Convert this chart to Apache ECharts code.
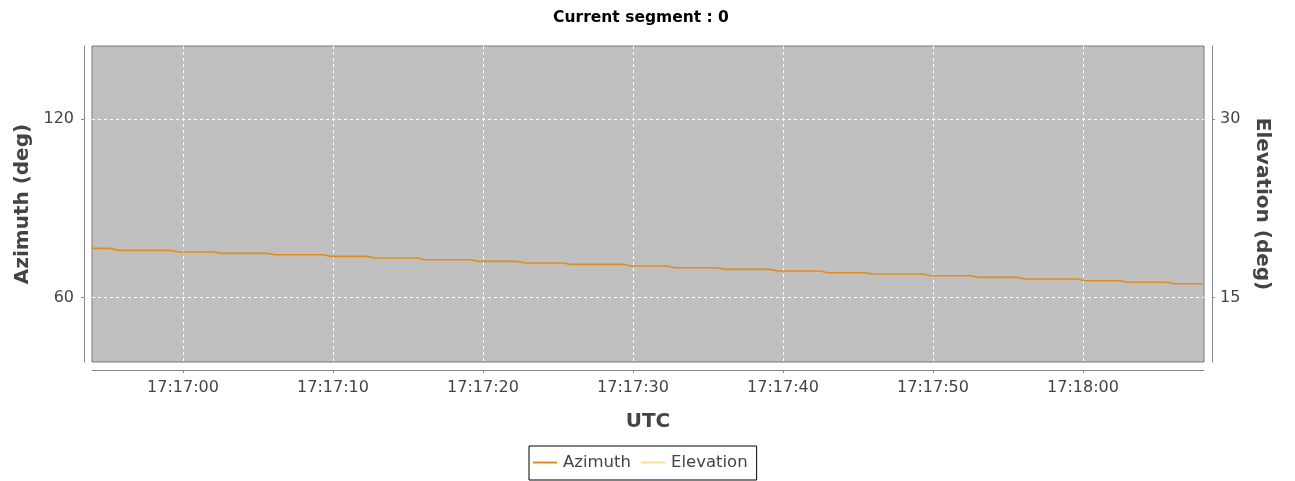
<!DOCTYPE html>
<html>
<head>
<meta charset="utf-8">
<script src="https://cdn.jsdelivr.net/npm/echarts@6/dist/echarts.min.js"></script>
<style>
  html, body { margin: 0; padding: 0; background: #ffffff; }
  #chart { width: 1295px; height: 481px; }
</style>
</head>
<body>
<div id="chart"></div>
<script>
// Pass samples (UTC time of day) and azimuth in degrees
const utcTimes = [
  '17:16:53.93', '17:16:55.13', '17:16:55.67', '17:16:59.13', '17:16:59.67', '17:17:02.00',
  '17:17:02.53', '17:17:05.60', '17:17:06.13', '17:17:09.33', '17:17:09.87', '17:17:12.27',
  '17:17:12.80', '17:17:15.60', '17:17:16.13', '17:17:19.13', '17:17:19.67', '17:17:22.27',
  '17:17:22.80', '17:17:25.33', '17:17:25.87', '17:17:29.33', '17:17:29.87', '17:17:32.27',
  '17:17:32.80', '17:17:35.60', '17:17:36.13', '17:17:39.13', '17:17:39.67', '17:17:42.47',
  '17:17:43.00', '17:17:45.47', '17:17:46.00', '17:17:49.33', '17:17:49.87', '17:17:52.47',
  '17:17:53.00', '17:17:55.60', '17:17:56.13', '17:17:59.60', '17:18:00.13', '17:18:02.47',
  '17:18:03.00', '17:18:05.60', '17:18:06.13', '17:18:08.07'
];
const azimuth = [
  76.55, 76.55, 75.88, 75.88, 75.31, 75.31,
  74.88, 74.88, 74.41, 74.41, 73.87, 73.87,
  73.30, 73.30, 72.73, 72.73, 72.20, 72.20,
  71.63, 71.63, 71.19, 71.19, 70.62, 70.62,
  70.05, 70.05, 69.51, 69.51, 68.94, 68.94,
  68.37, 68.37, 67.94, 67.94, 67.37, 67.37,
  66.83, 66.83, 66.26, 66.26, 65.69, 65.69,
  65.16, 65.16, 64.69, 64.69
];
// no elevation samples fall inside this segment's range
const elevation = [];

const xTickLabels = ['17:17:00', '17:17:10', '17:17:20', '17:17:30', '17:17:40', '17:17:50', '17:18:00'];
const azimuthTicks = [60, 120];
const elevationTicks = [15, 30];
const timeRange = ['17:16:53.93', '17:18:08.07'];
const azimuthRange = [38.4, 144.5];
const elevationRange = [9.6, 36.125];

function toSeconds(s) {
  const p = s.split(':');
  return (+p[0]) * 3600 + (+p[1]) * 60 + parseFloat(p[2]);
}
function pad(n) { return (n < 10 ? '0' : '') + n; }
function toClock(v) {
  const t = Math.round(v);
  return pad(Math.floor(t / 3600)) + ':' + pad(Math.floor(t / 60) % 60) + ':' + pad(t % 60);
}

const azData = utcTimes.map((t, i) => [toSeconds(t), azimuth[i]]);
const elData = elevation.map((v, i) => [toSeconds(utcTimes[i]), v]);

const TEXT = '#444444';
const AXIS = '#8a8a8a';
const FONT = 'DejaVu Sans';

const chart = echarts.init(document.getElementById('chart'), null, { renderer: 'canvas' });
chart.setOption({
  animation: false,
  backgroundColor: '#ffffff',
  title: {
    text: 'Current segment : 0',
    left: 636, top: 5, textAlign: 'center',
    textStyle: { fontFamily: FONT, fontWeight: 'bold', fontSize: 15.5, color: '#000' }
  },
  legend: {
    data: ['Azimuth', 'Elevation'],
    left: 529, top: 446,
    orient: 'horizontal',
    borderColor: '#000', borderWidth: 1,
    padding: [8, 9, 9, 4],
    itemGap: 10, itemWidth: 24, itemHeight: 2,
    icon: 'rect',
    textStyle: { fontFamily: FONT, fontSize: 16.5, color: TEXT, padding: [0, 0, 0, 1] }
  },
  grid: {
    left: 92, right: 91, top: 46, bottom: 119,
    show: true, backgroundColor: '#c0c0c0', borderColor: '#7a7a7a', borderWidth: 1
  },
  xAxis: {
    type: 'value',
    min: toSeconds(timeRange[0]), max: toSeconds(timeRange[1]),
    offset: 8,
    name: 'UTC', nameLocation: 'middle', nameGap: 42,
    nameTextStyle: { fontFamily: FONT, fontWeight: 'bold', fontSize: 20, color: TEXT },
    axisLine: { show: true, lineStyle: { color: AXIS, width: 1 } },
    axisTick: { show: true, length: 3, lineStyle: { color: AXIS }, customValues: xTickLabels.map(toSeconds) },
    axisLabel: {
      customValues: xTickLabels.map(toSeconds),
      formatter: v => toClock(v),
      fontFamily: FONT, fontSize: 16, color: TEXT, margin: 10
    },
    splitLine: { show: true, lineStyle: { color: '#ffffff', type: [3, 3], width: 1 } }
  },
  yAxis: [
    {
      type: 'value', position: 'left',
      min: azimuthRange[0], max: azimuthRange[1],
      offset: 8,
      name: 'Azimuth (deg)', nameLocation: 'middle', nameGap: 51,
      nameTextStyle: { fontFamily: FONT, fontWeight: 'bold', fontSize: 20, color: TEXT },
      axisLine: { show: true, lineStyle: { color: AXIS, width: 1 } },
      axisTick: { show: true, length: 3, lineStyle: { color: AXIS }, customValues: azimuthTicks },
      axisLabel: { customValues: azimuthTicks, fontFamily: FONT, fontSize: 16, color: TEXT, margin: 10 },
      splitLine: { show: true, lineStyle: { color: '#ffffff', type: [3, 3], width: 1 } }
    },
    {
      type: 'value', position: 'right',
      min: elevationRange[0], max: elevationRange[1],
      offset: 8,
      name: 'Elevation (deg)', nameLocation: 'middle', nameGap: 40, nameRotate: -90,
      nameTextStyle: { fontFamily: FONT, fontWeight: 'bold', fontSize: 20, color: TEXT },
      axisLine: { show: true, lineStyle: { color: AXIS, width: 1 } },
      axisTick: { show: true, length: 3, lineStyle: { color: AXIS }, customValues: elevationTicks },
      axisLabel: { customValues: elevationTicks, fontFamily: FONT, fontSize: 16, color: TEXT, margin: 8 },
      splitLine: { show: false }
    }
  ],
  series: [
    {
      name: 'Azimuth', type: 'line', yAxisIndex: 0,
      data: azData, showSymbol: false, symbol: 'none',
      itemStyle: { color: '#e38c1c' },
      lineStyle: { color: '#e38c1c', width: 1.6 }
    },
    {
      name: 'Elevation', type: 'line', yAxisIndex: 1,
      data: elData, showSymbol: false, symbol: 'none',
      itemStyle: { color: '#f2e392' },
      lineStyle: { color: '#f2e392', width: 1.6 }
    }
  ]
});
</script>
</body>
</html>
